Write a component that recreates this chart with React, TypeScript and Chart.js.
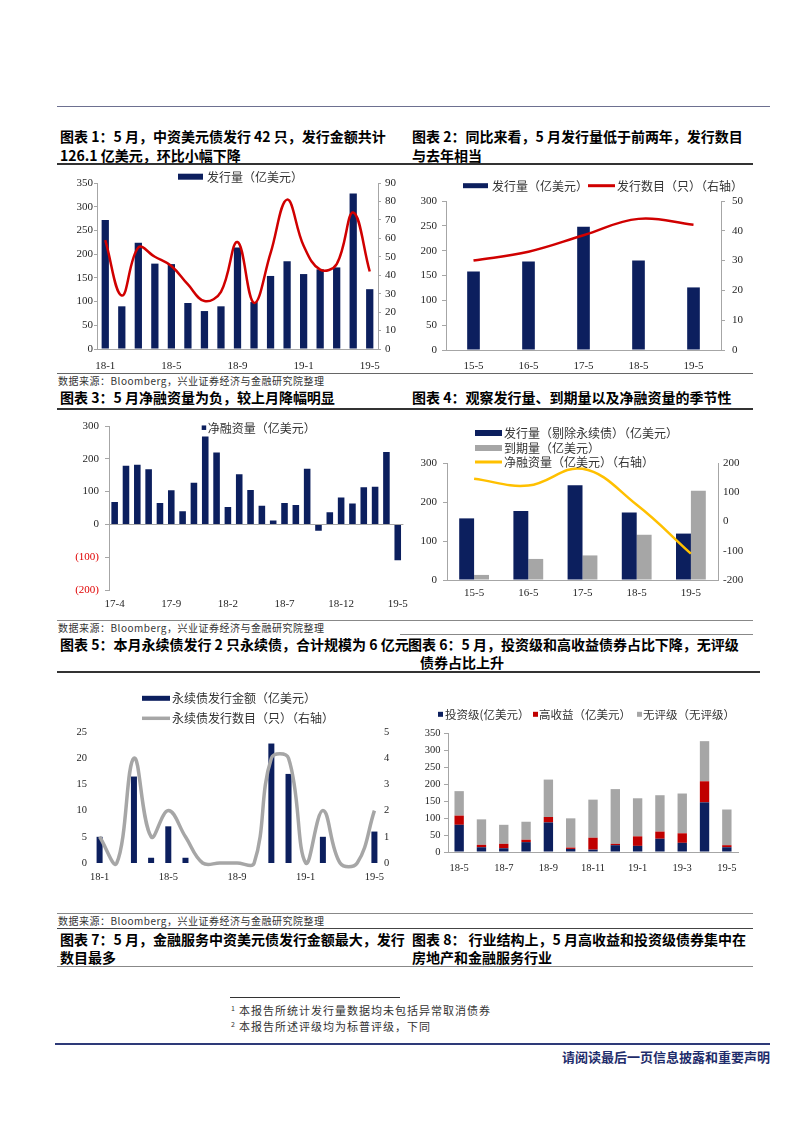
import React, { useEffect, useRef } from 'react';
import { Chart, registerables } from 'chart.js';
Chart.register(...registerables);

// ---------------- data ----------------
const months1 = ['18-1','18-2','18-3','18-4','18-5','18-6','18-7','18-8','18-9','18-10','18-11','18-12','19-1','19-2','19-3','19-4','19-5'];
const issueAmt = [272, 90, 224, 180, 179, 97, 80, 90, 214, 99, 154, 185, 158, 168, 172, 328, 126.1];
const issueCnt = [59, 29, 55, 50, 45, 35, 26, 31, 58, 25, 52, 81, 56, 43, 46, 74, 42];

const mayYears = ['15-5','16-5','17-5','18-5','19-5'];
const mayAmt = [158, 178, 248, 180, 126];
const mayCnt = [30, 33, 38.5, 44, 42];

const months3 = ['17-4','17-5','17-6','17-7','17-8','17-9','17-10','17-11','17-12','18-1','18-2','18-3','18-4','18-5','18-6','18-7','18-8','18-9','18-10','18-11','18-12','19-1','19-2','19-3','19-4','19-5'];
const netFin = [68, 179, 182, 168, 65, 104, 40, 127, 268, 219, 53, 153, 105, 57, 12, 65, 59, 170, -19, 37, 82, 64, 113, 115, 221, -109];

const issueExPerp = [158, 177, 243, 173, 119];
const maturity = [13, 54, 63, 116, 229];
const netMay = [146, 123, 180, 57, -110];

const perpAmt = [5, 0, 16.5, 1, 7, 1, 0, 0, 0, 0, 22.8, 17, 0, 5, 0, 0, 6];
const perpCnt = [1, 0, 4, 1, 2, 1, 0, 0, 0, 0, 4, 4, 0, 2, 0, 0, 2];

const months6 = ['18-5','18-6','18-7','18-8','18-9','18-10','18-11','18-12','19-1','19-2','19-3','19-4','19-5'];
const invGrade = [80, 14, 11, 29, 87, 9, 7, 20, 18, 39, 27, 146, 14];
const highYield = [27, 7, 13, 7, 16, 4, 35, 4, 28, 21, 28, 62, 6];
const noRating = [72, 75, 56, 53, 110, 86, 112, 161, 112, 107, 117, 118, 105];

// ---------------- styles ----------------
const SERIF = '"Liberation Serif", "Times New Roman", "Noto Sans CJK SC", serif';
const CJK = '"Noto Sans CJK SC", sans-serif';
const NAVY = '#0c1f5e';
const RED = '#d00000';
const GRAY = '#a6a6a6';
const AXIS = '#a6a6a6';
const YELLOW = '#ffc000';
const TICK = '#262626';

const legendPlugin = {
  id: 'pageLegend',
  afterDraw(chart: any, _a: any, opts: any) {
    const items = (opts && opts.items) || [];
    const ctx = chart.ctx;
    ctx.save();
    for (const it of items) {
      const ds = chart.data.datasets[it.ds];
      if (it.kind === 'line') {
        ctx.strokeStyle = ds.borderColor;
        ctx.lineWidth = it.h;
        ctx.beginPath();
        ctx.moveTo(it.x, it.y);
        ctx.lineTo(it.x + it.w, it.y);
        ctx.stroke();
      } else {
        ctx.fillStyle = ds.backgroundColor;
        ctx.fillRect(it.x, it.y - it.h / 2, it.w, it.h);
      }
      ctx.fillStyle = '#333';
      ctx.font = `${opts.size || 12}px ${CJK}`;
      ctx.textBaseline = 'middle';
      ctx.textAlign = 'left';
      ctx.fillText(ds.label, it.tx, it.y + 0.5);
    }
    ctx.restore();
  },
};

function catX(h: number, every: number, pad: number, border = true, size = 11) {
  return {
    type: 'category',
    offset: true,
    grid: { display: false, drawTicks: false },
    border: { display: border, color: AXIS, width: 1 },
    ticks: {
      autoSkip: false, maxRotation: 0, minRotation: 0, padding: pad,
      font: { family: SERIF, size }, color: TICK,
      callback: function (this: any, v: any, i: number) { return i % every === 0 ? this.getLabelForValue(v) : ''; },
    },
    afterFit: (s: any) => { s.height = h; },
  };
}

function valY(pos: string, min: number, max: number, step: number, w: number, tickLen: number, pad: number, border = true, size = 11) {
  return {
    type: 'linear', position: pos, min, max,
    ticks: { stepSize: step, padding: pad, font: { family: SERIF, size }, color: TICK },
    grid: { display: tickLen > 0, drawOnChartArea: false, drawTicks: tickLen > 0, tickLength: tickLen, color: AXIS },
    border: { display: border, color: AXIS, width: 1 },
    afterFit: (s: any) => { s.width = w; },
  };
}

const baseOpts = (padding: any, items: any[], legendSize = 12) => ({
  responsive: false,
  maintainAspectRatio: false,
  animation: false,
  layout: { padding },
  elements: { line: { capBezierPoints: false }, point: { radius: 0 } },
  plugins: { legend: { display: false }, tooltip: { enabled: false }, pageLegend: { items, size: legendSize } },
});

// ---------------- chart configs ----------------
const cfg1 = () => ({
  type: 'bar',
  data: {
    labels: months1,
    datasets: [
      { type: 'line', label: '发行数目（只）', data: issueCnt, yAxisID: 'y1', borderColor: RED, borderWidth: 2.5, pointRadius: 0, tension: 0.4, fill: false, order: 0 },
      { type: 'bar', label: '发行量（亿美元）', data: issueAmt, yAxisID: 'y', backgroundColor: NAVY, barPercentage: 0.44, categoryPercentage: 1, order: 1 },
    ],
  },
  options: {
    ...baseOpts({ top: 17, left: 0, right: 0, bottom: 0 }, [{ ds: 1, kind: 'bar', x: 122, y: 10.7, w: 25, h: 6, tx: 151 }]),
    scales: {
      x: catX(23, 4, 11),
      y: valY('left', 0, 350, 50, 41, 3, 1),
      y1: valY('right', 0, 90, 10, 24, 3, 4),
    },
  },
  plugins: [legendPlugin],
});

const cfg2 = () => ({
  type: 'bar',
  data: {
    labels: mayYears,
    datasets: [
      { type: 'line', label: '发行数目（只）（右轴）', data: mayCnt, yAxisID: 'y1', borderColor: RED, borderWidth: 2.5, pointRadius: 0, tension: 0.4, fill: false, order: 0 },
      { type: 'bar', label: '发行量（亿美元）', data: mayAmt, yAxisID: 'y', backgroundColor: NAVY, barPercentage: 0.23, categoryPercentage: 1, order: 1 },
    ],
  },
  options: {
    ...baseOpts({ top: 29, left: 0, right: 0, bottom: 0 }, [
      { ds: 1, kind: 'bar', x: 58, y: 13.7, w: 25, h: 5, tx: 87 },
      { ds: 0, kind: 'line', x: 183, y: 13.7, w: 27, h: 3, tx: 212 },
    ]),
    scales: {
      x: catX(22, 1, 10),
      y: valY('left', 0, 300, 50, 41, 4, 5),
      y1: valY('right', 0, 50, 10, 34, 4, 7),
    },
  },
  plugins: [legendPlugin],
});

const cfg3 = () => {
  const y: any = valY('left', -200, 300, 100, 53, 4, 6);
  y.grid = {
    display: true, drawOnChartArea: true, drawTicks: true, tickLength: 4, tickColor: AXIS,
    color: (c: any) => (c.tick && c.tick.value === 0 ? AXIS : 'rgba(0,0,0,0)'),
  };
  y.ticks.callback = (v: number) => (v < 0 ? `(${-v})` : `${v}`);
  y.ticks.color = (c: any) => (c.tick && c.tick.value < 0 ? '#e00000' : TICK);
  return {
    type: 'bar',
    data: {
      labels: months3,
      datasets: [
        { label: '净融资量（亿美元）', data: netFin, backgroundColor: NAVY, barPercentage: 0.58, categoryPercentage: 1 },
      ],
    },
    options: {
      ...baseOpts({ top: 14, left: 0, right: 9, bottom: 0 }, [{ ds: 0, kind: 'bar', x: 145.7, y: 15.7, w: 4.5, h: 4.5, tx: 151.7 }]),
      scales: { x: catX(22, 5, 8, false), y },
    },
    plugins: [legendPlugin],
  };
};

const cfg4 = () => ({
  type: 'bar',
  data: {
    labels: mayYears,
    datasets: [
      { type: 'line', label: '净融资量（亿美元）（右轴）', data: netMay, yAxisID: 'y1', borderColor: YELLOW, borderWidth: 2.5, pointRadius: 0, tension: 0.4, fill: false, order: 0 },
      { type: 'bar', label: '发行量（剔除永续债）（亿美元）', data: issueExPerp, yAxisID: 'y', backgroundColor: NAVY, barPercentage: 1, categoryPercentage: 0.55, order: 1 },
      { type: 'bar', label: '到期量（亿美元）', data: maturity, yAxisID: 'y', backgroundColor: GRAY, barPercentage: 1, categoryPercentage: 0.55, order: 1 },
    ],
  },
  options: {
    ...baseOpts({ top: 51, left: 0, right: 0, bottom: 0 }, [
      { ds: 1, kind: 'bar', x: 67, y: 21, w: 27, h: 6, tx: 96 },
      { ds: 2, kind: 'bar', x: 67, y: 36, w: 27, h: 6, tx: 96 },
      { ds: 0, kind: 'line', x: 67, y: 50, w: 27, h: 3, tx: 96 },
    ]),
    scales: {
      x: catX(32, 1, 7),
      y: valY('left', 0, 300, 100, 39, 4, 6),
      y1: valY('right', -200, 200, 100, 40, 0, 5),
    },
  },
  plugins: [legendPlugin],
});

const cfg5 = () => ({
  type: 'bar',
  data: {
    labels: months1,
    datasets: [
      { type: 'line', label: '永续债发行数目（只）（右轴）', data: perpCnt, yAxisID: 'y1', borderColor: GRAY, borderWidth: 3.5, pointRadius: 0, tension: 0.4, fill: false, order: 0, clip: 8 },
      { type: 'bar', label: '永续债发行金额（亿美元）', data: perpAmt, yAxisID: 'y', backgroundColor: NAVY, barPercentage: 0.35, categoryPercentage: 1, order: 1 },
    ],
  },
  options: {
    ...baseOpts({ top: 46, left: 0, right: 0, bottom: 0 }, [
      { ds: 1, kind: 'bar', x: 86, y: 12.3, w: 28, h: 5, tx: 116 },
      { ds: 0, kind: 'line', x: 86, y: 32.3, w: 28, h: 3.5, tx: 116 },
    ]),
    scales: {
      x: catX(23, 4, 8, false, 10.5),
      y: valY('left', 0, 25, 5, 35, 0, 4, false, 10.5),
      y1: valY('right', 0, 5, 1, 19, 0, 1, false, 10.5),
    },
  },
  plugins: [legendPlugin],
});

const cfg6 = () => ({
  type: 'bar',
  data: {
    labels: months6,
    datasets: [
      { label: '投资级(亿美元）', data: invGrade, backgroundColor: NAVY, barPercentage: 0.42, categoryPercentage: 1 },
      { label: '高收益（亿美元）', data: highYield, backgroundColor: '#c00000', barPercentage: 0.42, categoryPercentage: 1 },
      { label: '无评级（无评级）', data: noRating, backgroundColor: GRAY, barPercentage: 0.42, categoryPercentage: 1 },
    ],
  },
  options: {
    ...baseOpts({ top: 33, left: 0, right: 20, bottom: 0 }, [
      { ds: 0, kind: 'bar', x: 30, y: 14.3, w: 5, h: 5, tx: 37 },
      { ds: 1, kind: 'bar', x: 125, y: 14.3, w: 5, h: 5, tx: 131 },
      { ds: 2, kind: 'bar', x: 229, y: 14.3, w: 5, h: 5, tx: 235 },
    ], 11.5),
    scales: {
      x: { ...catX(30, 2, 10, true, 10.5), stacked: true },
      y: { ...valY('left', 0, 350, 50, 40, 4, 3.5, true, 10.5), stacked: true },
    },
  },
  plugins: [legendPlugin],
});

// ---------------- components ----------------
function ChartBox({ left, top, width, height, make }: any) {
  const ref = useRef<HTMLCanvasElement>(null);
  useEffect(() => {
    const chart = new Chart(ref.current as HTMLCanvasElement, make());
    return () => chart.destroy();
  }, []);
  return <canvas ref={ref} width={width} height={height} style={{ position: 'absolute', left, top, width, height }} />;
}

function Txt({ x, y, size = 14, bold = true, color = '#000', right = false, spacing = 0, children }: any) {
  const style: React.CSSProperties = {
    position: 'absolute',
    top: y - size * 0.6,
    fontSize: size,
    lineHeight: `${size * 1.2}px`,
    fontFamily: CJK,
    fontWeight: bold ? 700 : 400,
    color,
    whiteSpace: 'nowrap',
    letterSpacing: spacing,
  };
  if (right) style.right = 802 - x; else style.left = x;
  return <div style={style}>{children}</div>;
}

function Rule({ x1, x2, y, w = 1, color = '#555' }: any) {
  return <div style={{ position: 'absolute', left: x1, top: y - w / 2, width: x2 - x1, height: w, background: color }} />;
}

const SRC = '数据来源：Bloomberg，兴业证券经济与金融研究院整理';

export default function App() {
  return (
    <div style={{ position: 'absolute', left: 0, top: 0, width: 802, height: 1133, background: '#fff', overflow: 'hidden' }}>
      <Rule x1={57} x2={770} y={106.7} w={1.5} color="#6d7090" />

      <Txt x={60} y={136.7}>图表 1：5 月，中资美元债发行 42 只，发行金额共计</Txt>
      <Txt x={60} y={155.3}>126.1 亿美元，环比小幅下降</Txt>
      <Txt x={412} y={136.7}>图表 2：同比来看，5 月发行量低于前两年，发行数目</Txt>
      <Txt x={412} y={155.3}>与去年相当</Txt>
      <Rule x1={57} x2={753} y={164} w={2} color="#333" />

      <ChartBox left={56} top={166} width={346} height={206} make={cfg1} />
      <ChartBox left={405} top={172} width={350} height={200} make={cfg2} />

      <Rule x1={57} x2={753} y={373.3} w={1.5} color="#666" />
      <Txt x={58} y={381} size={10} bold={false} color="#333" spacing={0.5}>{SRC}</Txt>
      <Txt x={60} y={397.5}>图表 3：5 月净融资量为负，较上月降幅明显</Txt>
      <Txt x={412} y={397.5}>图表 4：观察发行量、到期量以及净融资量的季节性</Txt>
      <Rule x1={57} x2={753} y={408.7} w={2} color="#333" />

      <ChartBox left={56} top={412} width={360} height={200} make={cfg3} />
      <ChartBox left={408} top={412} width={350} height={200} make={cfg4} />

      <Rule x1={57} x2={753} y={620} w={1} color="#888" />
      <Txt x={58} y={627.5} size={10} bold={false} color="#333" spacing={0.5}>{SRC}</Txt>
      <Rule x1={400} x2={753} y={634} w={1} color="#888" />
      <Txt x={60} y={644.5}>图表 5：本月永续债发行 2 只永续债，合计规模为 6 亿元</Txt>
      <Txt x={408} y={644.5}>图表 6：5 月，投资级和高收益债券占比下降，无评级</Txt>
      <Txt x={420} y={662.7}>债券占比上升</Txt>
      <Rule x1={57} x2={760} y={671.7} w={2} color="#333" />

      <ChartBox left={56} top={686} width={346} height={200} make={cfg5} />
      <ChartBox left={408} top={700} width={350} height={182} make={cfg6} />

      <Rule x1={57} x2={753} y={913.5} w={1} color="#888" />
      <Txt x={58} y={920.7} size={10} bold={false} color="#333" spacing={0.5}>{SRC}</Txt>
      <Rule x1={57} x2={753} y={928.3} w={1.5} color="#444" />
      <Txt x={60} y={939.3}>图表 7：5 月，金融服务中资美元债发行金额最大，发行</Txt>
      <Txt x={60} y={957}>数目最多</Txt>
      <Txt x={412} y={939.3}>图表 8： 行业结构上，5 月高收益和投资级债券集中在</Txt>
      <Txt x={412} y={957}>房地产和金融服务行业</Txt>
      <Rule x1={57} x2={753} y={966} w={1} color="#888" />

      <Rule x1={230} x2={400} y={997} w={1} color="#333" />
      <Txt x={231} y={1008} size={7} bold={false} color="#333">1</Txt>
      <Txt x={239} y={1011} size={11} bold={false} color="#333" spacing={1}>本报告所统计发行量数据均未包括异常取消债券</Txt>
      <Txt x={231} y={1024} size={7} bold={false} color="#333">2</Txt>
      <Txt x={239} y={1027} size={11} bold={false} color="#333" spacing={1}>本报告所述评级均为标普评级，下同</Txt>

      <Rule x1={55} x2={770} y={1044} w={2} color="#2e3a78" />
      <Txt x={770} y={1057} size={13} right color="#1f2d6b">请阅读最后一页信息披露和重要声明</Txt>
    </div>
  );
}
